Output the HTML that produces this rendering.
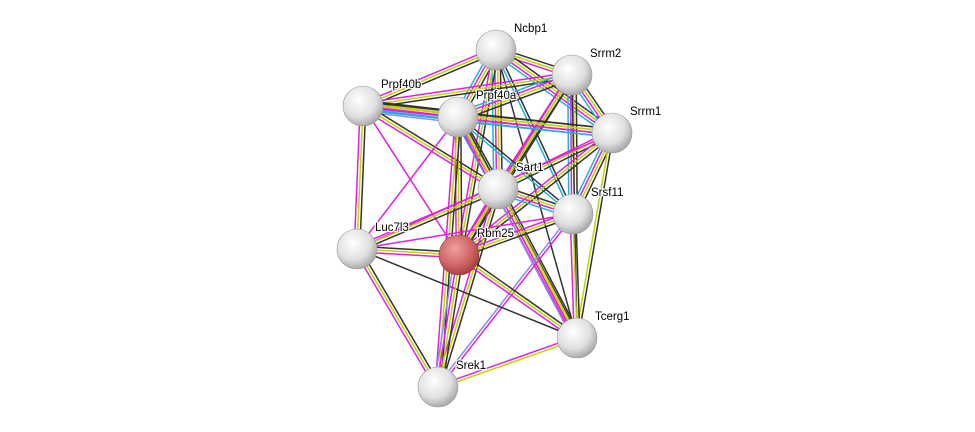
<!DOCTYPE html>
<html><head><meta charset="utf-8"><style>
html,body{margin:0;padding:0;background:#fff;}
svg{display:block}
text{font-family:"Liberation Sans",sans-serif;font-size:11.5px;fill:#000;paint-order:stroke;stroke:#fff;stroke-width:2.5px;stroke-linejoin:round}
</style></head><body>
<svg id="s" width="975" height="432" viewBox="0 0 975 432" xmlns="http://www.w3.org/2000/svg">
<defs>
<radialGradient id="g" cx="0.4" cy="0.35" r="0.7">
<stop offset="0" stop-color="#ffffff"/><stop offset="0.6" stop-color="#e0e0e0"/><stop offset="1" stop-color="#a0a0a0"/></radialGradient>
<radialGradient id="r" cx="0.4" cy="0.35" r="0.7">
<stop offset="0" stop-color="#f0a0a0"/><stop offset="0.6" stop-color="#d06464"/><stop offset="1" stop-color="#a03c3c"/></radialGradient>
</defs>
<g id="edges"></g>
<g id="nodes"></g>
</svg>
<script>
var N={Ncbp1:[496,50],Srrm2:[572,75],Prpf40b:[363,106],Prpf40a:[458,117],Srrm1:[612,133],Sart1:[498,189],Srsf11:[573,214],Luc7l3:[357,249],Rbm25:[459,255],Tcerg1:[577,338],Srek1:[438,387]};
var C={k:"#333",y:"#c4d400",m:"#e020e0",c:"#20b0e0",b:"#8c8cf0"};
var E=[
["Ncbp1","Srrm2","kym"],["Ncbp1","Prpf40b","kym"],["Ncbp1","Prpf40a","kymc"],["Ncbp1","Srrm1","kymc"],["Ncbp1","Sart1","kymc"],["Ncbp1","Srsf11","kc"],["Ncbp1","Rbm25","kym"],["Ncbp1","Tcerg1","k"],
["Srrm2","Prpf40b","kym"],["Srrm2","Prpf40a","kymc"],["Srrm2","Srrm1","kymc"],["Srrm2","Sart1","kym"],["Srrm2","Srsf11","kymc"],["Srrm2","Rbm25","kym"],["Srrm2","Tcerg1","k"],
["Prpf40b","Prpf40a","kymcb"],["Prpf40b","Srrm1","kymc"],["Prpf40b","Luc7l3","kym"],["Prpf40b","Rbm25","m"],["Prpf40b","Sart1","kym"],
["Prpf40a","Srrm1","kymc"],["Prpf40a","Sart1","kymc"],["Prpf40a","Srsf11","kc"],["Prpf40a","Rbm25","kym"],["Prpf40a","Tcerg1","kym"],["Prpf40a","Srek1","kym"],["Prpf40a","Luc7l3","m"],
["Srrm1","Sart1","kym"],["Srrm1","Srsf11","kymc"],["Srrm1","Rbm25","kym"],["Srrm1","Tcerg1","ky"],["Srrm1","Luc7l3","m"],
["Sart1","Srsf11","kymc"],["Sart1","Rbm25","kym"],["Sart1","Luc7l3","kym"],["Sart1","Tcerg1","kymb"],["Sart1","Srek1","kym"],
["Srsf11","Rbm25","kym"],["Srsf11","Tcerg1","kym"],["Srsf11","Srek1","mb"],["Srsf11","Luc7l3","m"],
["Luc7l3","Rbm25","kym"],["Luc7l3","Srek1","kym"],["Luc7l3","Tcerg1","k"],
["Rbm25","Srek1","kymb"],["Rbm25","Tcerg1","kym"],["Tcerg1","Srek1","ym"]];
var ns="http://www.w3.org/2000/svg",eg=document.getElementById("edges"),ng=document.getElementById("nodes");
E.forEach(function(e){var a=N[e[0]],b=N[e[1]],dx=b[0]-a[0],dy=b[1]-a[1],L=Math.hypot(dx,dy),px=-dy/L,py=dx/L,n=e[2].length;
for(var i=0;i<n;i++){var o=(i-(n-1)/2)*2.8;var l=document.createElementNS(ns,"line");
l.setAttribute("x1",a[0]+px*o);l.setAttribute("y1",a[1]+py*o);l.setAttribute("x2",b[0]+px*o);l.setAttribute("y2",b[1]+py*o);
l.setAttribute("stroke",C[e[2][i]]);l.setAttribute("stroke-width","1.5");eg.appendChild(l);}});
for(var k in N){var p=N[k];var c=document.createElementNS(ns,"circle");c.setAttribute("cx",p[0]);c.setAttribute("cy",p[1]);c.setAttribute("r",20);
c.setAttribute("fill",k=="Rbm25"?"url(#r)":"url(#g)");c.setAttribute("stroke",k=="Rbm25"?"#904040":"#999");c.setAttribute("stroke-width","0.6");ng.appendChild(c);
var t=document.createElementNS(ns,"text");t.setAttribute("x",p[0]+18);t.setAttribute("y",p[1]-18);t.textContent=k;ng.appendChild(t);}
</script>
</body></html>
